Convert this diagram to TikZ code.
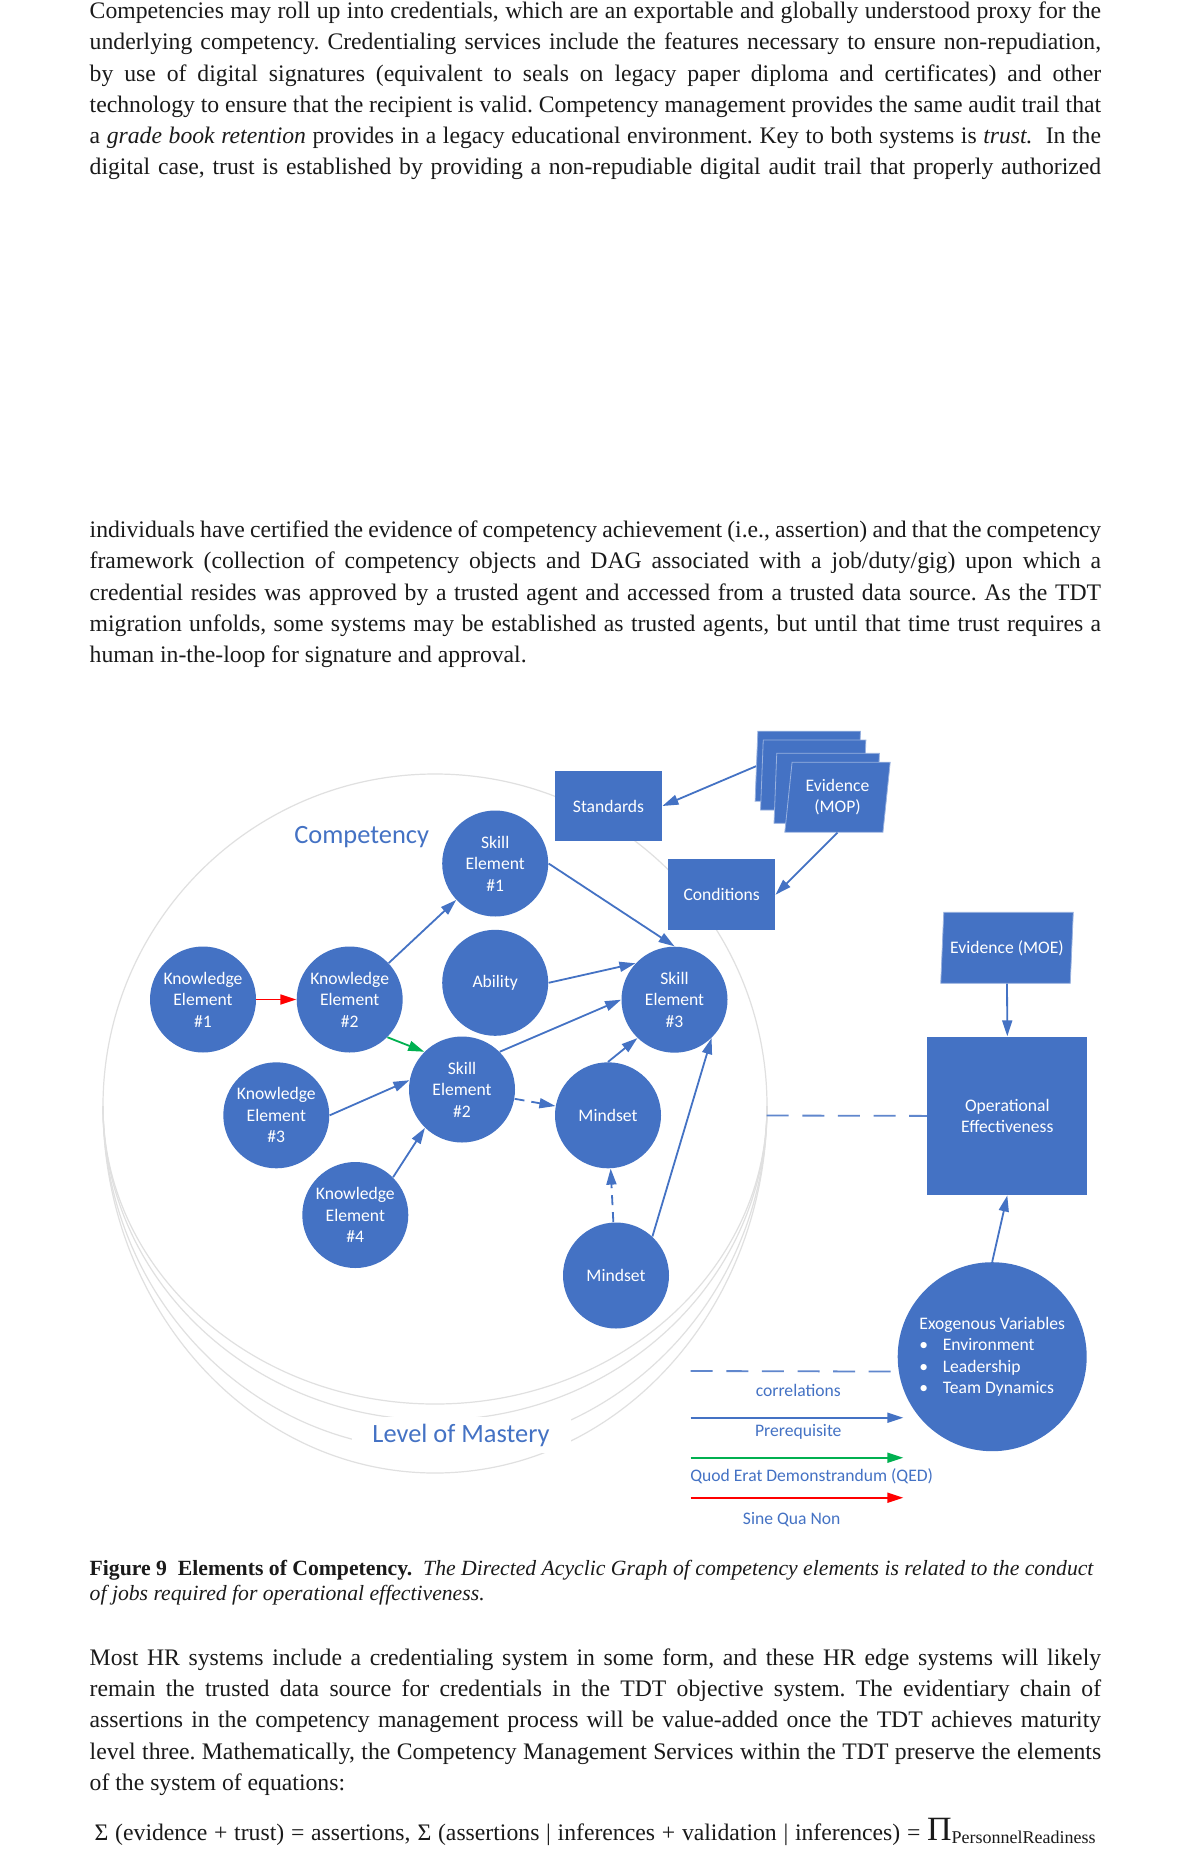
\documentclass[tikz,border=0pt]{standalone}
\usepackage{fontspec}
\setmainfont{Liberation Serif}
\newfontfamily\diagfont{Carlito}
\usetikzlibrary{arrows.meta,shapes.geometric}
\definecolor{ofblue}{HTML}{4472C4}
\definecolor{qedgreen}{HTML}{00B050}
\definecolor{ringgray}{HTML}{E0E0E0}
\definecolor{bodyink}{HTML}{1A1A1A}
\newcommand{\labelfont}{\diagfont\fontsize{8.8}{10.75}\selectfont}
\newcommand{\bodyfont}{\fontsize{11.85}{15.6}\selectfont}
\newcommand{\bul}{\makebox[11.7pt][l]{\textbullet}}
\newcommand{\bodyblock}[1]{\begin{minipage}[t]{505.7pt}\frenchspacing\parindent=0pt\spaceskip=.25em plus .3em minus .12em\strut #1\end{minipage}}
\tikzset{
elem/.style={circle, fill=ofblue, text=white, minimum size=53pt, inner sep=0pt, align=center, font=\labelfont},
boxnode/.style={rectangle, fill=ofblue, text=white, inner sep=0pt, align=center, font=\labelfont},
evid/.style={trapezium, trapezium stretches=true, fill=ofblue, draw=ofblue!55!white, line width=0.4pt, text=white, inner sep=0pt, align=center, font=\labelfont},
link/.style={ofblue, line width=0.9pt, -{Triangle[length=8pt,width=5pt]}},
qed/.style={link, qedgreen},
sqn/.style={link, red},
dlink/.style={link, dash pattern=on 5pt off 3.5pt},
corr/.style={ofblue!85!white, line width=0.9pt, dash pattern=on 11pt off 6.8pt},
ring/.style={ringgray, line width=0.6pt},
legtext/.style={text=ofblue, font=\labelfont},
bigtext/.style={text=ofblue, font=\diagfont\fontsize{13.2}{15}\selectfont},
bodytext/.style={anchor=north west, inner sep=0pt, text=bodyink, font=\bodyfont}
}

\begin{document}
\begin{tikzpicture}[x=0.5pt, y=-0.5pt]
\fill[white] (0,0) rectangle (1200,1867);
\useasboundingbox (0,0) rectangle (1200,1867);

% text around the figure
\node[bodytext] (para1) at (89.3,-3.54) {\bodyblock{\parfillskip=0pt Competencies may roll up into credentials, which are an exportable and globally understood proxy for the\linebreak
underlying competency. Credentialing services include the features necessary to ensure non-repudiation,\linebreak
by use of digital signatures (equivalent to seals on legacy paper diploma and certificates) and other\linebreak
technology to ensure that the recipient is valid. Competency management provides the same audit trail that\linebreak
a \textit{grade book retention} provides in a legacy educational environment. Key to both systems is \textit{trust.}\ \ In the\linebreak
digital case, trust is established by providing a non-repudiable digital audit trail that properly authorized}};
\node[bodytext] (para2) at (89.3,515.46) {\bodyblock{individuals have certified the evidence of competency achievement (i.e., assertion) and that the competency\linebreak
framework (collection of competency objects and DAG associated with a job/duty/gig) upon which a\linebreak
credential resides was approved by a trusted agent and accessed from a trusted data source. As the TDT\linebreak
migration unfolds, some systems may be established as trusted agents, but until that time trust requires a\linebreak
human in-the-loop for signature and approval.}};
\node[bodytext, align=left, font=\fontsize{10.85}{12.5}\selectfont] (caption) at (89.3,1557.5) {\strut\textbf{Figure 9\ \ Elements of Competency.}\ \ \textit{The Directed Acyclic Graph of competency elements is related to the conduct}\\
\textit{of jobs required for operational effectiveness.}};
\node[bodytext] (para3) at (89.3,1643.16) {\bodyblock{Most HR systems include a credentialing system in some form, and these HR edge systems will likely\linebreak
remain the trusted data source for credentials in the TDT objective system. The evidentiary chain of\linebreak
assertions in the competency management process will be value-added once the TDT achieves maturity\linebreak
level three. Mathematically, the Competency Management Services within the TDT preserve the elements\linebreak
of the system of equations:}};
\node[anchor=base west, inner sep=0pt, text=bodyink, font=\bodyfont] (eqn) at (94.3,1840) {\makebox[500.5pt][s]{Σ (evidence + trust) = assertions, Σ (assertions | inferences + validation | inferences) = {\fontsize{17}{17}\selectfont Π}\raisebox{-1.5pt}{\fontsize{9}{9}\selectfont PersonnelReadiness}}};

% rings of competency and mastery
\draw[ring] (103,1106) arc[start angle=180, end angle=0, radius=166pt];
\draw[ring] (103,1106) arc[start angle=180, end angle=360, x radius=166pt, y radius=149pt];
\draw[ring] (103,1106) arc[start angle=180, end angle=360, x radius=166pt, y radius=157pt];
\draw[ring] (103,1106) arc[start angle=180, end angle=360, x radius=166pt, y radius=172pt];
\draw[ring] (103,1106) arc[start angle=180, end angle=360, x radius=166pt, y radius=183.5pt];
\node[bigtext] (comptitle) at (361.7,836.7) {Competency};
\node[bigtext, fill=white, minimum width=109.5pt, minimum height=17.5pt] (mastery) at (461,1435) {Level of Mastery};

% boxes
\node[boxnode, minimum width=53.5pt, minimum height=35pt] (standards) at (608.5,806) {Standards};
\node[boxnode, minimum width=53.35pt, minimum height=35.35pt] (conditions) at (721.7,894.7) {Conditions};
\node[boxnode, minimum width=80pt, minimum height=79.2pt] (opeff) at (1007.3,1115.9) {Operational\\Effectiveness};
\node[evid, minimum width=52.7pt, minimum height=35pt, trapezium left angle=82, trapezium right angle=98] (mop1) at (807.8,766.2) {\phantom{Evidence}};
\node[evid, minimum width=52.7pt, minimum height=35pt, trapezium left angle=82, trapezium right angle=98] (mop2) at (813.2,775) {\phantom{Evidence}};
\node[evid, minimum width=52.7pt, minimum height=35pt, trapezium left angle=82, trapezium right angle=98] (mop3) at (826.7,788.3) {\phantom{Evidence}};
\node[evid, minimum width=52.7pt, minimum height=35pt, trapezium left angle=82, trapezium right angle=98] (mop4) at (837.5,797.2) {Evidence\\(MOP)};
\node[evid, minimum width=66.3pt, minimum height=35.5pt, trapezium left angle=80, trapezium right angle=100] (moe) at (1007,947.8) {Evidence (MOE)};

% elements
\node[elem] (ke1) at (203,999.5) {Knowledge\\Element\\\#1};
\node[elem] (ke2) at (349.7,999.5) {Knowledge\\Element\\\#2};
\node[elem] (ke3) at (276.3,1115.3) {Knowledge\\Element\\\#3};
\node[elem] (ke4) at (355.3,1215) {Knowledge\\Element\\\#4};
\node[elem] (se1) at (495.2,863.5) {Skill\\Element\\\#1};
\node[elem] (ability) at (495.2,982.8) {Ability};
\node[elem] (se2) at (462,1089.5) {Skill\\Element\\\#2};
\node[elem] (se3) at (674.5,999.7) {Skill\\Element\\\#3};
\node[elem] (mind1) at (608,1115.3) {Mindset};
\node[elem] (mind2) at (616,1275.5) {Mindset};
\node[elem, minimum size=94.5pt, align=left] (exo) at (992.2,1356.7) {Exogenous Variables\\\bul Environment\\\bul Leadership\\\bul Team Dynamics};

% connectors
\draw[sqn] (ke1) -- (ke2);
\draw[qed] (ke2.-45) -- (se2.135);
\draw[link] (ke2) -- (se1);
\draw[link] (ke3.east) -- (se2.170);
\draw[link] (ke4.45) -- (se2.226);
\draw[dlink] (se2) -- (mind1);
\draw[link] (se2.45) -- (se3.west);
\draw[link] (ability.east) -- (se3.137);
\draw[link] (se1.east) -- (se3.north);
\draw[link] (mind1.north) -- (se3.226);
\draw[link] (mind2.47) -- (se3.-46);
\draw[dlink] (mind2) -- (mind1);
\draw[link] (mop1.west) -- (standards.east);
\draw[link] (mop4.south) -- (conditions.east);
\draw[link] (moe.south) -- (opeff.north);
\draw[link] (exo.north) -- (opeff.south);
\coordinate (ringedge) at (766.7,1115.5);
\draw[corr] (ringedge) -- (opeff.west);

% legend
\coordinate (corrstart) at (690.7,1371);
\coordinate (prqa) at (690.7,1417.7);
\coordinate (prqb) at (903.3,1417.7);
\coordinate (qeda) at (690.7,1457.7);
\coordinate (qedb) at (903.3,1457.7);
\coordinate (sqna) at (690.7,1497.7);
\coordinate (sqnb) at (903.3,1497.7);
\draw[corr] (corrstart) -- (exo.189);
\draw[link] (prqa) -- (prqb);
\draw[qed] (qeda) -- (qedb);
\draw[sqn] (sqna) -- (sqnb);
\node[legtext] (corrtxt) at (798.3,1390) {correlations};
\node[legtext] (prqtxt) at (798.3,1431.7) {Prerequisite};
\node[legtext] (qedtxt) at (811.7,1476) {Quod Erat Demonstrandum (QED)};
\node[legtext] (sqntxt) at (791.7,1519.3) {Sine Qua Non};
\end{tikzpicture}
\end{document}
